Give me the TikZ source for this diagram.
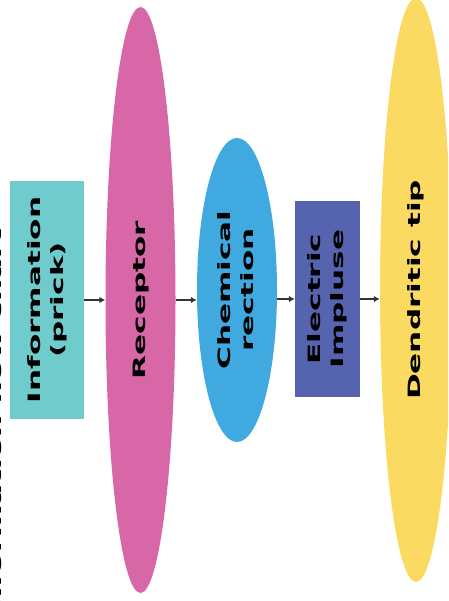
\documentclass[tikz,border=0pt]{standalone}
\usepackage{fontspec}
\setmainfont{DejaVu Sans}
\usepackage{graphicx}
\usetikzlibrary{shapes.geometric,arrows.meta}

\definecolor{infoteal}{RGB}{111,203,204}
\definecolor{recpink}{RGB}{216,103,167}
\definecolor{chemblue}{RGB}{64,170,224}
\definecolor{elecblue}{RGB}{86,99,174}
\definecolor{tipyellow}{RGB}{251,218,98}

% text turned to read upwards, stretched along its line
\newcommand{\vtext}[1]{\rotatebox{90}{\scalebox{1.83}[1]{\begin{tabular}{@{}c@{}}#1\end{tabular}}}}

\begin{document}
\begin{tikzpicture}[
  x=1pt, y=-1pt,
  stepbox/.style={
    rectangle, inner sep=0pt,
    font=\fontsize{17}{23}\selectfont\bfseries, text=black
  },
  stepoval/.style={
    ellipse, inner sep=0pt,
    font=\fontsize{17}{23}\selectfont\bfseries, text=black
  },
  flow/.style={-{Latex[length=6pt,width=6.5pt]}, line width=2pt, black!80}
]
\useasboundingbox (0,0) rectangle (448,601);
\clip (0,0) rectangle (448,601);

% --- Title (cut by the page edge) ---
\node[anchor=east, inner sep=0pt, font=\fontsize{17}{23}\selectfont\bfseries]
  (title) at (1.8,425) {\rotatebox{90}{\scalebox{1.83}[1]{Information flow chart}}};

% --- Steps ---
\node[stepbox, fill=infoteal, minimum width=74pt, minimum height=237pt]
  (info) at (47,300) {\vtext{Information\\(prick)}};
\node[stepoval, fill=recpink, minimum width=70pt, minimum height=586pt]
  (receptor) at (140.5,300) {\vtext{Receptor}};
\node[stepoval, fill=chemblue, minimum width=80pt, minimum height=304pt]
  (chem) at (237,290) {\vtext{Chemical\\rection}};
\node[stepbox, fill=elecblue, minimum width=65pt, minimum height=196pt]
  (elec) at (327.5,299) {\vtext{Electric\\Impluse}};
\node[stepoval, fill=tipyellow, minimum width=72pt, minimum height=584pt]
  (tip) at (416,290) {\vtext{Dendritic tip}};

% --- Arrows ---
\draw[flow] (info.east) -- (receptor.west);
\draw[flow] (receptor.east) -- (receptor.east -| chem.west);
\draw[flow] (chem.east |- elec.west) -- (elec.west);
\draw[flow] (elec.east) -- (elec.east -| tip.west);

\end{tikzpicture}
\end{document}
